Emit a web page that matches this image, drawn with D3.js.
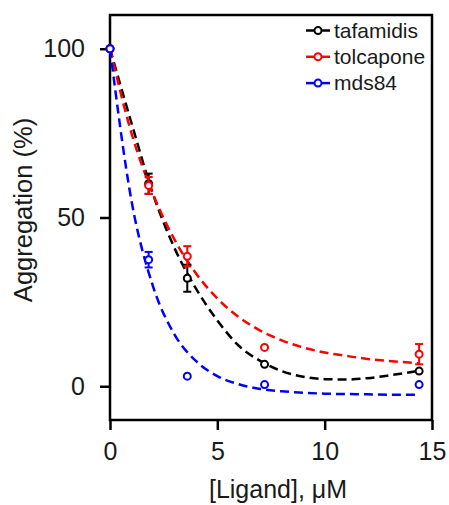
<!DOCTYPE html>
<html lang="en">
  <head>
    <meta charset="UTF-8" />
    <title>Aggregation vs ligand</title>
    <style>
      body { margin: 0; background: #fff; }
      svg text { font-family: "Liberation Sans", Arial, sans-serif; fill: #1a1a1a; }
    </style>
  </head>
  <body>
    <div id="wrapper"></div>
    <script src="https://d3js.org/d3.v7.min.js"></script>
    <script>
      // measured points
      const conc = [0, 1.8, 3.6, 7.2, 14.4];
      const tafamidis = [100, 60, 32, 6.5, 4.5];
      const tafamidisErr = [0, 3, 4, 0, 0];
      const tolcapone = [100, 59.5, 38.5, 11.5, 9.5];
      const tolcaponeErr = [0, 2.5, 3, 0, 3];
      const mds84 = [100, 37.5, 3, 0.5, 0.5];
      const mds84Err = [0, 2.3, 0, 0, 0];

      // fitted curves
      const fitX = [0, 1, 2, 3, 4, 5, 6, 7, 8, 9, 10, 11, 12, 13, 14.4];
      const tafamidisFit = [100, 78, 57, 41, 29, 19.5, 12, 7.5, 4.5, 2.8, 2.1, 2, 2.4, 3.2, 4.6];
      const tolcaponeFit = [100, 75, 57, 43.5, 33.5, 26, 20.5, 16.5, 13.6, 11.5, 10, 9, 8.1, 7.5, 6.8];
      const mds84Fit = [100, 55, 29.7, 15.4, 7.5, 3, 0.6, -0.8, -1.5, -1.9, -2.2, -2.3, -2.4, -2.5, -2.5];

      const xTicks = [0, 5, 10, 15];
      const yTicks = [0, 50, 100];

      const series = [
        { name: "tafamidis", color: "#000000", y: tafamidis, err: tafamidisErr, fit: tafamidisFit },
        { name: "tolcapone", color: "#ff0000", y: tolcapone, err: tolcaponeErr, fit: tolcaponeFit },
        { name: "mds84", color: "#0000ff", y: mds84, err: mds84Err, fit: mds84Fit }
      ];

      const W = 449, H = 505;
      const margin = { top: 15, right: 17, bottom: 85, left: 110 };
      const width = W - margin.left - margin.right;
      const height = H - margin.top - margin.bottom;

      const svg = d3.select("#wrapper").append("svg")
        .attr("width", W).attr("height", H);
      const g = svg.append("g")
        .attr("transform", "translate(" + margin.left + "," + margin.top + ")");

      const x = d3.scaleLinear().domain([0, 15]).range([0, width]);
      const y = d3.scaleLinear().domain([-10, 110]).range([height, 0]);

      // frame
      g.append("rect")
        .attr("width", width).attr("height", height)
        .attr("fill", "none").attr("stroke", "#000").attr("stroke-width", 2.5);

      // axes
      const xAxis = g.append("g")
        .attr("transform", "translate(0," + height + ")")
        .call(d3.axisBottom(x).tickValues(xTicks).tickSize(10).tickPadding(12).tickSizeOuter(0));
      const yAxis = g.append("g")
        .call(d3.axisLeft(y).tickValues(yTicks).tickSize(10).tickPadding(15).tickSizeOuter(0));
      [xAxis, yAxis].forEach(a => {
        a.select(".domain").remove();
        a.selectAll("line").attr("stroke", "#000").attr("stroke-width", 2.5);
        a.selectAll("text").style("font-size", "25px")
          .style("font-family", "Liberation Sans, Arial, sans-serif").attr("fill", "#1a1a1a");
      });

      svg.append("text")
        .attr("x", 278).attr("y", 498)
        .attr("text-anchor", "middle").style("font-size", "25px")
        .text("[Ligand], μM");
      svg.append("text")
        .attr("transform", "translate(32,210) rotate(-90)")
        .attr("text-anchor", "middle").style("font-size", "25.5px")
        .text("Aggregation (%)");

      const line = d3.line()
        .x((d, i) => x(fitX[i]))
        .y(d => y(d))
        .curve(d3.curveMonotoneX);

      series.forEach(s => {
        g.append("path")
          .datum(s.fit)
          .attr("d", line)
          .attr("fill", "none")
          .attr("stroke", s.color)
          .attr("stroke-width", 2.5)
          .attr("stroke-dasharray", "9,5");
      });

      series.forEach(s => {
        const pts = conc.map((c, i) => ({ c: c, v: s.y[i], e: s.err[i] }));
        const eg = g.append("g").attr("stroke", s.color).attr("stroke-width", 2);
        pts.filter(d => d.e > 0).forEach(d => {
          eg.append("line").attr("x1", x(d.c)).attr("x2", x(d.c))
            .attr("y1", y(d.v - d.e)).attr("y2", y(d.v + d.e));
          [d.v - d.e, d.v + d.e].forEach(v => {
            eg.append("line").attr("x1", x(d.c) - 4).attr("x2", x(d.c) + 4)
              .attr("y1", y(v)).attr("y2", y(v));
          });
        });
        g.selectAll(null).data(pts).enter().append("circle")
          .attr("cx", d => x(d.c)).attr("cy", d => y(d.v))
          .attr("r", 3.5)
          .attr("fill", "#fff").attr("stroke", s.color).attr("stroke-width", 2);
      });

      // legend
      const leg = svg.append("g").attr("transform", "translate(306,30.5)");
      series.forEach((s, i) => {
        const row = leg.append("g").attr("transform", "translate(0," + (i * 26.3) + ")");
        row.append("line").attr("x1", 0).attr("x2", 24).attr("y1", 0).attr("y2", 0)
          .attr("stroke", s.color).attr("stroke-width", 2.5);
        row.append("circle").attr("cx", 12).attr("cy", 0).attr("r", 3.5)
          .attr("fill", "#fff").attr("stroke", s.color).attr("stroke-width", 2);
        row.append("text").attr("x", 28).attr("y", 7).style("font-size", "21px").text(s.name);
      });
    </script>
  </body>
</html>
